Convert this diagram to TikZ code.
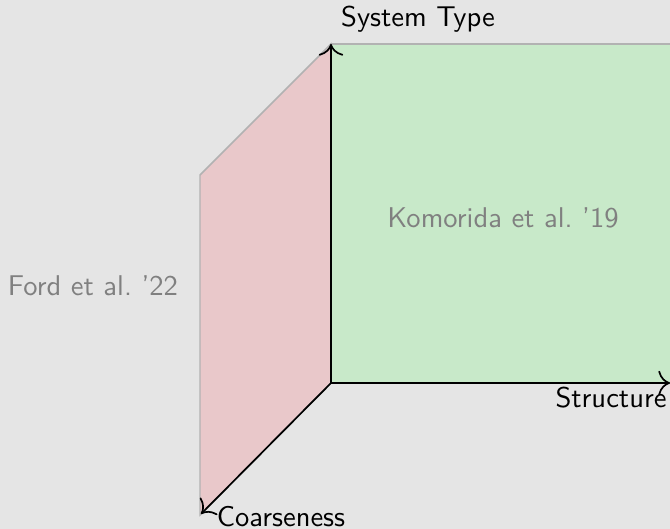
\documentclass[tikz,border=0pt]{standalone}
\usetikzlibrary{arrows.meta}
\begin{document}
\begin{tikzpicture}[x=0.35pt,y=-0.35pt,
  font=\sffamily,
  axis/.style={-{To[scale=1.4]},line width=0.6pt,black},
  plane/.style={draw=black!30,line width=0.5pt},
  cite/.style={text=black!50},
  axlabel/.style={text=black}]
  \definecolor{bgcol}{RGB}{229,229,229}
  \definecolor{greenplane}{RGB}{200,233,201}
  \definecolor{pinkplane}{RGB}{233,200,202}
  % background and fixed frame
  \fill[bgcol] (0,0) rectangle (670,529);
  \useasboundingbox (0,0) rectangle (670,529);
  \begin{scope}
    \clip (0,0) rectangle (670,529);
    % the two planes
    \filldraw[plane,fill=pinkplane] (331,44) -- (200,175) -- (200,515) -- (331,383) -- cycle;
    \filldraw[plane,fill=greenplane] (331,383) -- (331,44) -- (690,44) -- (690,383) -- cycle;
    % axes
    \coordinate (o) at (331,383);
    \coordinate (up) at (331,44);
    \coordinate (rt) at (670,383);
    \coordinate (dl) at (201,514);
    \draw[axis] (o) -- (up);
    \draw[axis] (o) -- (rt);
    \draw[axis] (o) -- (dl);
  \end{scope}
  % labels
  \node[axlabel] (sys) at (418,19) {System Type};
  \node[axlabel] (str) at (611,398) {Structure};
  \node[axlabel] (coa) at (281,517) {Coarseness};
  \node[cite] (kom) at (503,218) {Komorida et al.\ '19};
  \node[cite] (ford) at (93,286) {Ford et al.\ '22};
\end{tikzpicture}
\end{document}
